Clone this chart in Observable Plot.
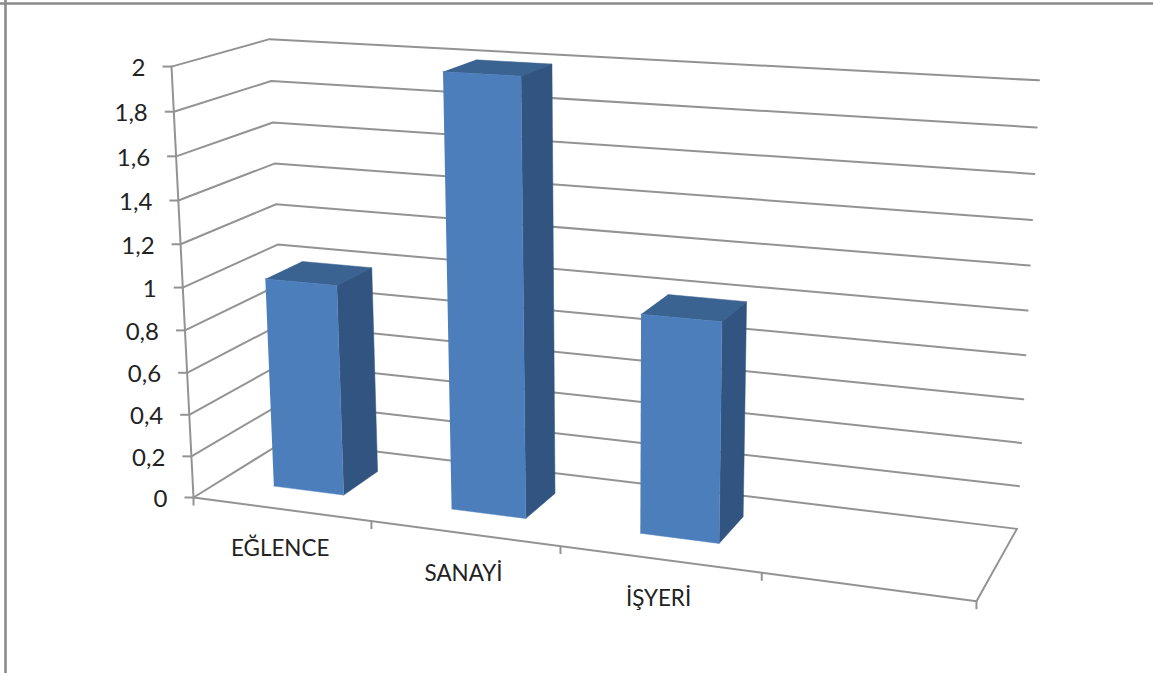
<!DOCTYPE html>
<html lang="tr">
<head>
<meta charset="utf-8">
<title>Kategori grafiği</title>
<script src="https://cdn.jsdelivr.net/npm/d3@7"></script>
<script src="https://cdn.jsdelivr.net/npm/@observablehq/plot@0.6"></script>
<style>
  html, body { margin: 0; padding: 0; background: #fff; }
  svg { display: block; }
</style>
</head>
<body>
<div id="chart"></div>
<script>
// Chart data
const categories = ["EĞLENCE", "SANAYİ", "İŞYERİ"];
const values = [1, 2, 1];
const slotCount = 4;              // the category axis leaves one empty slot on the right
const valueTicks = [0, 0.2, 0.4, 0.6, 0.8, 1, 1.2, 1.4, 1.6, 1.8, 2];
const valueTickLabels = ["0", "0,2", "0,4", "0,6", "0,8", "1", "1,2", "1,4", "1,6", "1,8", "2"];

// Perspective camera: (slot, value, depth) -> screen position
const rowX = [167.0, -15.26, 113.9, 193];
const rowY = [8.23, -217.1, -23.1, 497];
const rowW = [-0.02945, -0.0249, 0.077, 1];
const dot = (r, u, v, d) => r[0] * u + r[1] * v + r[2] * d + r[3];
const project = (u, v, d) => {
  const w = dot(rowW, u, v, d);
  return {x: dot(rowX, u, v, d) / w, y: dot(rowY, u, v, d) / w};
};

// Bars sit in the middle of their slot and of the floor depth
const barLo = 0.3, barHi = 0.7;
const W = 1153, H = 673;
const gridColor = "#939393";
const gridWidth = 2;
const textColor = "#222222";
const font = "Lato, 'Open Sans', sans-serif";

// Gridlines on the side wall and back wall, one polyline per value tick
const grid = valueTicks.flatMap((v) => [
  {v, ...project(0, v, 0)},
  {v, ...project(0, v, 1)},
  {v, ...project(slotCount, v, 1)}
]);

// Vertical axis and floor outline
const valueAxis = [project(0, 0, 0), project(0, 2, 0)];
const floorEdge = [project(0, 0, 0), project(slotCount, 0, 0), project(slotCount, 0, 1)];

// Tick marks
const valueTickMarks = valueTicks.map((v) => ({v, ...project(0, v, 0)}));
const slotTickMarks = d3.range(slotCount + 1).map((u) => project(u, 0, 0));

// Box faces for each bar
const quad = (key, corners) => corners.map(([u, v, d]) => ({key, ...project(u, v, d)}));
const frontFaces = values.flatMap((val, i) => quad(i, [
  [i + barLo, 0, barLo], [i + barHi, 0, barLo], [i + barHi, val, barLo], [i + barLo, val, barLo]
]));
const sideFaces = values.flatMap((val, i) => quad(i, [
  [i + barHi, 0, barLo], [i + barHi, 0, barHi], [i + barHi, val, barHi], [i + barHi, val, barLo]
]));
const topFaces = values.flatMap((val, i) => quad(i, [
  [i + barLo, val, barLo], [i + barHi, val, barLo], [i + barHi, val, barHi], [i + barLo, val, barHi]
]));

const face = (rows, fill) =>
  Plot.line(rows, {x: "x", y: "y", z: "key", fill, stroke: fill, strokeWidth: 0.5});

const categoryLabels = categories.map((name, i) => ({name, ...project(i + 0.5, 0, 0)}));
const valueLabels = valueTickMarks.map((t, i) => ({label: valueTickLabels[i], ...t}));

const chart = Plot.plot({
  width: W,
  height: H,
  margin: 0,
  x: {type: "linear", domain: [0, W], range: [0, W], axis: null},
  y: {type: "linear", domain: [0, H], range: [0, H], axis: null},
  style: {background: "#fff", fontFamily: font},
  marks: [
    // Outer frame (top and left edges only)
    Plot.ruleY([3], {stroke: "#8a8a8a", strokeWidth: 2.6}),
    Plot.ruleX([5], {stroke: "#8a8a8a", strokeWidth: 2.6}),

    // Walls and floor
    Plot.line(grid, {x: "x", y: "y", z: "v", stroke: gridColor, strokeWidth: gridWidth}),
    Plot.line(valueAxis, {x: "x", y: "y", stroke: gridColor, strokeWidth: gridWidth}),
    Plot.line(floorEdge, {x: "x", y: "y", stroke: gridColor, strokeWidth: gridWidth}),

    // Tick marks
    Plot.link(valueTickMarks, {
      x1: "x", y1: "y", x2: (d) => d.x - 9, y2: "y",
      stroke: gridColor, strokeWidth: gridWidth
    }),
    Plot.link(slotTickMarks, {
      x1: "x", y1: "y", x2: "x", y2: (d) => d.y + 8,
      stroke: gridColor, strokeWidth: gridWidth
    }),

    // Bars
    face(topFaces, "#3a6391"),
    face(sideFaces, "#325480"),
    face(frontFaces, "#4d7ebc"),

    // Labels
    Plot.text(valueLabels, {
      x: "x", y: "y", text: "label", dx: -26, dy: 2, textAnchor: "end",
      fontSize: 24, fill: textColor
    }),
    Plot.text(categoryLabels, {
      x: "x", y: "y", text: "name", dy: 40, dx: -1,
      fontSize: 22.4, fill: textColor
    })
  ]
});

document.getElementById("chart").append(chart);
</script>
</body>
</html>
